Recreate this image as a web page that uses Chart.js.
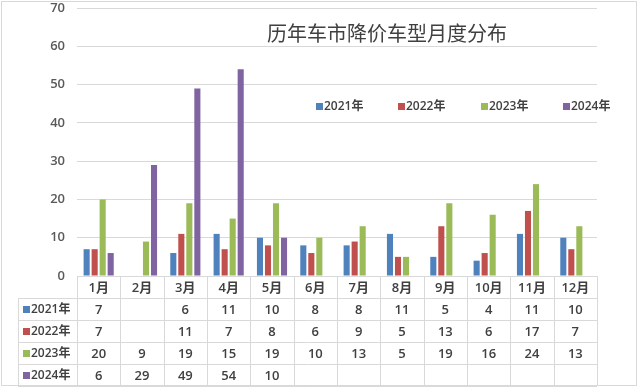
<!DOCTYPE html>
<html><head><meta charset="utf-8">
<script src="https://cdn.jsdelivr.net/npm/chart.js@4/dist/chart.umd.min.js"></script>
<style>html,body{margin:0;padding:0;background:#fff}canvas{display:block}</style>
</head><body>
<canvas id="c" width="640" height="387"></canvas>
<script>
const months = ['1月','2月','3月','4月','5月','6月','7月','8月','9月','10月','11月','12月'];
const seriesNames = ['2021年','2022年','2023年','2024年'];
const v2021 = [7,null,6,11,10,8,8,11,5,4,11,10];
const v2022 = [7,null,11,7,8,6,9,5,13,6,17,7];
const v2023 = [20,9,19,15,19,10,13,5,19,16,24,13];
const v2024 = [6,29,49,54,10,null,null,null,null,null,null,null];
const yTicks = [0,10,20,30,40,50,60,70];
const colors = ['#4F81BD','#C0504D','#9BBB59','#8064A2'];
const titleText = '历年车市降价车型月度分布';

const seriesValues = [v2021,v2022,v2023,v2024];
const SANS = '"Open Sans","Noto Sans CJK SC",sans-serif';

const tablePlugin = {
  id: 'tablePlugin',
  afterDraw(chart) {
    const ctx = chart.ctx;
    const xs = chart.scales.x;
    const area = chart.chartArea;
    const left = area.left, right = area.right, top0 = area.bottom;
    const rowH = 22;
    const hdrBottom = top0 + 22;
    const tblLeft = 18;
    ctx.save();
    ctx.strokeStyle = '#d9d9d9';
    ctx.lineWidth = 1;
    ctx.strokeRect(1.5, 1.5, 635, 384);
    ctx.beginPath();
    const bottom = hdrBottom + rowH * 4;
    for (let r = 0; r <= 4; r++) {
      const y = Math.round(hdrBottom + r * rowH) + 0.5;
      ctx.moveTo(tblLeft, y); ctx.lineTo(right, y);
    }
    const n = months.length;
    const w = (right - left) / n;
    for (let i = 0; i <= n; i++) {
      const x = Math.round(left + i * w) + 0.5;
      ctx.moveTo(x, top0); ctx.lineTo(x, bottom);
    }
    ctx.moveTo(tblLeft + 0.5, hdrBottom); ctx.lineTo(tblLeft + 0.5, bottom);
    ctx.stroke();
    ctx.textAlign = 'center';
    ctx.textBaseline = 'middle';
    ctx.fillStyle = '#404040';
    for (let s = 0; s < 4; s++) {
      const yc = hdrBottom + s * rowH + rowH / 2;
      ctx.font = '600 13px ' + SANS;
      ctx.textAlign = 'center';
      ctx.fillStyle = '#404040';
      seriesValues[s].forEach((v, i) => {
        if (v === null) return;
        ctx.fillText(String(v), xs.getPixelForValue(i), yc + 1);
      });
      ctx.fillStyle = colors[s];
      ctx.fillRect(tblLeft + 5, yc - 3, 7, 7);
      ctx.fillStyle = '#404040';
      ctx.textAlign = 'left';
      ctx.font = '600 12px ' + SANS;
      ctx.fillText(seriesNames[s], tblLeft + 13, yc + 1);
    }
    ctx.font = '400 20px "Noto Sans CJK SC",sans-serif';
    ctx.fillStyle = '#404040';
    ctx.textAlign = 'center';
    ctx.fillText(titleText, 387, 33);
    const lx = [316, 398, 481, 563];
    ctx.textAlign = 'left';
    ctx.font = '600 12px ' + SANS;
    for (let s = 0; s < 4; s++) {
      ctx.fillStyle = colors[s];
      ctx.fillRect(lx[s], 103, 7, 7);
      ctx.fillStyle = '#404040';
      ctx.fillText(seriesNames[s], lx[s] + 8, 107);
    }
    ctx.restore();
  }
};

new Chart(document.getElementById('c'), {
  type: 'bar',
  data: {
    labels: months,
    datasets: seriesNames.map((name, i) => ({
      label: name,
      data: seriesValues[i],
      backgroundColor: colors[i],
      categoryPercentage: 0.74,
      barPercentage: 0.76
    }))
  },
  options: {
    responsive: false,
    animation: false,
    devicePixelRatio: 1,
    layout: { padding: { top: 8, right: 43, bottom: 0, left: 0 } },
    plugins: { legend: { display: false }, title: { display: false }, tooltip: { enabled: false } },
    scales: {
      x: {
        grid: { display: false, drawTicks: false },
        border: { display: true, color: '#d9d9d9' },
        ticks: { color: '#404040', font: { family: SANS, size: 13, weight: '600' }, padding: 4, maxRotation: 0, autoSkip: false },
        afterFit(scale) { scale.height = 111; scale.paddingLeft = 0; scale.paddingRight = 0; }
      },
      y: {
        min: 0, max: 70,
        afterBuildTicks(scale) { scale.ticks = yTicks.map(v => ({ value: v })); },
        grid: { color: '#d9d9d9', drawTicks: false },
        border: { display: false },
        ticks: { color: '#595959', font: { family: SANS, size: 13, weight: '600' }, padding: 12 },
        afterFit(scale) { scale.width = 77; scale.paddingTop = 0; scale.paddingBottom = 0; }
      }
    }
  },
  plugins: [tablePlugin]
});
</script>
</body></html>
